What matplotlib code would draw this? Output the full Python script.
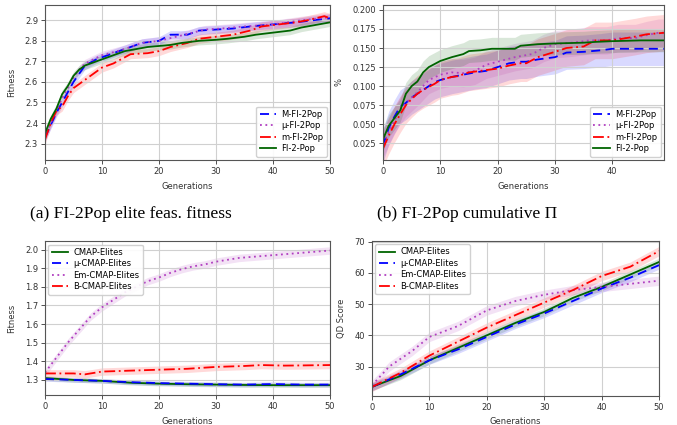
import matplotlib
matplotlib.use("Agg")
import matplotlib.pyplot as plt
import numpy as np

# ---------------- data: (a) FI-2Pop elite feasible fitness ----------------
fit_labels = ["M-FI-2Pop", "μ-FI-2Pop", "m-FI-2Pop", "FI-2-Pop"]
fit_x_M = [0, 1, 2, 3, 4, 5, 6, 7, 9, 10, 12, 15, 17, 20, 22, 25, 27, 30, 33, 36, 40, 44, 47, 50]
fit_M = [2.33, 2.39, 2.45, 2.50, 2.55, 2.60, 2.64, 2.68, 2.71, 2.72, 2.74, 2.77, 2.79, 2.80, 2.83, 2.83, 2.85, 2.855, 2.86, 2.87, 2.88, 2.89, 2.90, 2.91]
fit_x_mu = [0, 1, 2, 3, 4, 5, 6, 7, 10, 14, 17, 20, 23, 26, 28, 31, 35, 40, 45, 50]
fit_mu = [2.33, 2.40, 2.46, 2.52, 2.57, 2.62, 2.66, 2.69, 2.73, 2.76, 2.79, 2.80, 2.82, 2.84, 2.855, 2.86, 2.87, 2.88, 2.90, 2.915]
fit_x_m = [0, 1, 2, 3, 4, 5, 6.5, 8, 10, 12, 14, 15, 18, 20, 22, 25, 27, 30, 33, 36, 38, 41, 44, 46, 49, 50]
fit_m = [2.32, 2.40, 2.46, 2.48, 2.53, 2.57, 2.60, 2.63, 2.67, 2.69, 2.72, 2.735, 2.74, 2.75, 2.77, 2.79, 2.81, 2.82, 2.83, 2.85, 2.87, 2.88, 2.89, 2.90, 2.92, 2.91]
fit_x_g = [0, 1, 2, 3, 4, 5, 6, 7, 9, 10, 12, 14, 16, 18, 22, 24, 27, 30, 32, 35, 37, 40, 43, 45, 48, 50]
fit_g = [2.35, 2.42, 2.47, 2.54, 2.58, 2.63, 2.66, 2.68, 2.70, 2.71, 2.73, 2.75, 2.76, 2.77, 2.78, 2.79, 2.80, 2.805, 2.81, 2.82, 2.83, 2.84, 2.85, 2.865, 2.88, 2.89]
fit_err = [0.02, 0.02, 0.022, 0.02]

# ---------------- data: (b) FI-2Pop cumulative Pi ----------------
pi_x_M = [0, 1, 2, 3, 4, 5, 6, 7, 9, 10, 12, 14, 16, 18, 20, 22, 24, 25, 27, 30, 32, 35, 38, 40, 49]
pi_M = [0.022, 0.045, 0.060, 0.073, 0.078, 0.085, 0.090, 0.095, 0.105, 0.108, 0.112, 0.115, 0.118, 0.120, 0.125, 0.130, 0.132, 0.132, 0.135, 0.138, 0.144, 0.145, 0.147, 0.149, 0.149]
pi_x_mu = [0, 1, 2, 3, 4, 5, 6, 7, 8, 10, 12, 14, 16, 18, 20, 23, 26, 28, 30, 33, 36, 39, 41, 44, 46, 48, 49]
pi_mu = [0.025, 0.040, 0.055, 0.068, 0.078, 0.085, 0.092, 0.100, 0.108, 0.115, 0.118, 0.117, 0.120, 0.128, 0.132, 0.138, 0.142, 0.150, 0.155, 0.157, 0.160, 0.160, 0.163, 0.163, 0.167, 0.170, 0.170]
pi_x_m = [0, 1, 2, 3, 4, 5, 6, 7, 9, 10, 12, 13, 15, 17, 20, 22, 24, 25, 27, 30, 32, 35, 37, 40, 44, 46, 49]
pi_m = [0.018, 0.035, 0.050, 0.063, 0.075, 0.083, 0.090, 0.095, 0.103, 0.108, 0.112, 0.113, 0.118, 0.120, 0.123, 0.127, 0.130, 0.130, 0.138, 0.145, 0.150, 0.152, 0.160, 0.160, 0.165, 0.168, 0.170]
pi_x_g = [0, 1, 2, 3, 4, 5, 6, 7, 8, 10, 12, 14, 15, 17, 19, 23, 24, 27, 30, 35, 37, 40, 45, 49]
pi_g = [0.030, 0.048, 0.058, 0.068, 0.090, 0.100, 0.106, 0.118, 0.125, 0.133, 0.138, 0.142, 0.146, 0.147, 0.149, 0.149, 0.153, 0.155, 0.156, 0.157, 0.158, 0.159, 0.160, 0.160]
pi_err = [0.022, 0.018, 0.024, 0.015]

# ---------------- data: CMAP fitness ----------------
cm_labels = ["CMAP-Elites", "μ-CMAP-Elites", "Em-CMAP-Elites", "B-CMAP-Elites"]
cf_x = [0, 5, 10, 15, 20, 25, 30, 35, 40, 45, 50]
cf_cmap = [1.310, 1.300, 1.295, 1.285, 1.280, 1.277, 1.275, 1.273, 1.272, 1.272, 1.272]
cf_mu = [1.305, 1.300, 1.295, 1.288, 1.283, 1.280, 1.277, 1.275, 1.278, 1.275, 1.275]
cf_x_em = [0, 2, 4, 6, 8, 10, 12, 14, 16, 18, 20, 22, 24, 26, 28, 30, 32, 34, 36, 40, 44, 48, 50]
cf_em = [1.34, 1.42, 1.50, 1.57, 1.64, 1.69, 1.73, 1.77, 1.80, 1.83, 1.85, 1.875, 1.895, 1.91, 1.92, 1.935, 1.945, 1.955, 1.96, 1.97, 1.98, 1.99, 1.995]
cf_x_b = [0, 5, 7, 10, 15, 20, 25, 30, 35, 38, 42, 45, 50]
cf_b = [1.335, 1.335, 1.330, 1.345, 1.350, 1.355, 1.360, 1.370, 1.375, 1.380, 1.377, 1.378, 1.380]
cf_err = [0.012, 0.012, 0.02, 0.02]

# ---------------- data: CMAP QD score ----------------
qd_x = [0, 5, 10, 15, 20, 25, 30, 35, 40, 45, 50]
qd_cmap = [23.5, 27.0, 32.0, 36.0, 40.0, 44.0, 47.5, 52.0, 55.5, 59.5, 63.5]
qd_mu = [23.5, 27.5, 32.0, 35.5, 39.5, 43.5, 47.0, 51.0, 55.0, 58.5, 62.5]
qd_x_em = [0, 3, 7, 10, 15, 20, 25, 30, 35, 40, 45, 50]
qd_em = [24.0, 30.0, 35.0, 39.5, 43.0, 48.0, 51.0, 53.0, 54.5, 55.5, 56.5, 57.5]
qd_b = [23.5, 28.0, 33.5, 38.0, 42.5, 46.5, 50.5, 54.5, 59.0, 62.0, 67.0]
qd_err = [1.2, 1.3, 1.5, 1.5]

PURPLE = '#b03ec0'

plt.rcParams['font.family'] = ['DejaVu Sans']
fig = plt.figure(figsize=(6.77, 4.25), dpi=100)

def style(ax, xlabel, ylabel):
    ax.set_facecolor('white')
    ax.grid(True, color='#d0d0d0', linewidth=0.8)
    for s in ax.spines.values():
        s.set_color('#555555')
        s.set_linewidth(0.8)
    ax.tick_params(labelsize=6, colors='#333333', length=3, width=0.6, pad=2)
    ax.set_xlabel(xlabel, fontsize=6, color='#333333', labelpad=4)
    ax.set_ylabel(ylabel, fontsize=6, color='#333333', labelpad=6)

def series(ax, x, y, err, color, ls, label, alpha=0.15):
    x = np.asarray(x); y = np.asarray(y)
    ax.fill_between(x, y - err, y + err, color=color, alpha=alpha, linewidth=0)
    ax.plot(x, y, color=color, linestyle=ls, linewidth=1.3, label=label)

def legend(ax, loc):
    ax.legend(loc=loc, fontsize=6, framealpha=0.9, edgecolor='#cccccc',
              handlelength=2.0, handletextpad=0.6, labelspacing=0.3,
              borderpad=0.4, borderaxespad=0.4)

DASH = (0, (5, 3))
DOT = (0, (1, 2))
DASHDOT = (0, (6, 2, 1, 2))

# (a)
ax1 = fig.add_axes([0.0665, 0.6235, 0.421, 0.365])
series(ax1, fit_x_M, fit_M, fit_err[0], 'blue', DASH, fit_labels[0])
series(ax1, fit_x_mu, fit_mu, fit_err[1], PURPLE, DOT, fit_labels[1])
series(ax1, fit_x_m, fit_m, fit_err[2], 'red', DASHDOT, fit_labels[2])
series(ax1, fit_x_g, fit_g, fit_err[3], 'darkgreen', '-', fit_labels[3])
ax1.set_xlim(0, 50)
ax1.set_ylim(2.22, 2.975)
ax1.set_xticks([0, 10, 20, 30, 40, 50])
ax1.set_yticks([2.3, 2.4, 2.5, 2.6, 2.7, 2.8, 2.9])
style(ax1, 'Generations', 'Fitness')
legend(ax1, 'lower right')

# (b)
ax2 = fig.add_axes([0.5657, 0.6235, 0.415, 0.365])
series(ax2, pi_x_M, pi_M, pi_err[0], 'blue', DASH, fit_labels[0])
series(ax2, pi_x_mu, pi_mu, pi_err[1], PURPLE, DOT, fit_labels[1])
series(ax2, pi_x_m, pi_m, pi_err[2], 'red', DASHDOT, fit_labels[2])
series(ax2, pi_x_g, pi_g, pi_err[3], 'darkgreen', '-', fit_labels[3])
ax2.set_xlim(0, 49)
ax2.set_ylim(0.003, 0.2066)
ax2.set_xticks([0, 10, 20, 30, 40])
ax2.set_yticks([0.025, 0.05, 0.075, 0.1, 0.125, 0.15, 0.175, 0.2])
ax2.yaxis.set_major_formatter(matplotlib.ticker.FormatStrFormatter('%.3f'))
style(ax2, 'Generations', '%')
legend(ax2, 'lower right')

# captions
fig.text(0.045, 0.497, '(a) FI-2Pop elite feas. fitness', fontsize=12.5,
         family='Liberation Serif', va='center', ha='left')
fig.text(0.557, 0.497, '(b) FI-2Pop cumulative Π', fontsize=12.5,
         family='Liberation Serif', va='center', ha='left')

# (c)
ax3 = fig.add_axes([0.0665, 0.0705, 0.421, 0.362])
series(ax3, cf_x, cf_cmap, cf_err[0], 'darkgreen', '-', cm_labels[0])
series(ax3, cf_x, cf_mu, cf_err[1], 'blue', DASH, cm_labels[1])
series(ax3, cf_x_em, cf_em, cf_err[2], PURPLE, DOT, cm_labels[2])
series(ax3, cf_x_b, cf_b, cf_err[3], 'red', DASHDOT, cm_labels[3])
ax3.set_xlim(0, 50)
ax3.set_ylim(1.219, 2.045)
ax3.set_xticks([0, 10, 20, 30, 40, 50])
ax3.set_yticks([1.3, 1.4, 1.5, 1.6, 1.7, 1.8, 1.9, 2.0])
style(ax3, 'Generations', 'Fitness')
legend(ax3, 'upper left')

# (d)
ax4 = fig.add_axes([0.5495, 0.0685, 0.424, 0.365])
series(ax4, qd_x, qd_cmap, qd_err[0], 'darkgreen', '-', cm_labels[0])
series(ax4, qd_x, qd_mu, qd_err[1], 'blue', DASH, cm_labels[1])
series(ax4, qd_x_em, qd_em, qd_err[2], PURPLE, DOT, cm_labels[2])
series(ax4, qd_x, qd_b, qd_err[3], 'red', DASHDOT, cm_labels[3])
ax4.set_xlim(0, 50)
ax4.set_ylim(20.6, 70.3)
ax4.set_xticks([0, 10, 20, 30, 40, 50])
ax4.set_yticks([30, 40, 50, 60, 70])
style(ax4, 'Generations', 'QD Score')
legend(ax4, 'upper left')

fig.savefig('out.png', dpi=100)
